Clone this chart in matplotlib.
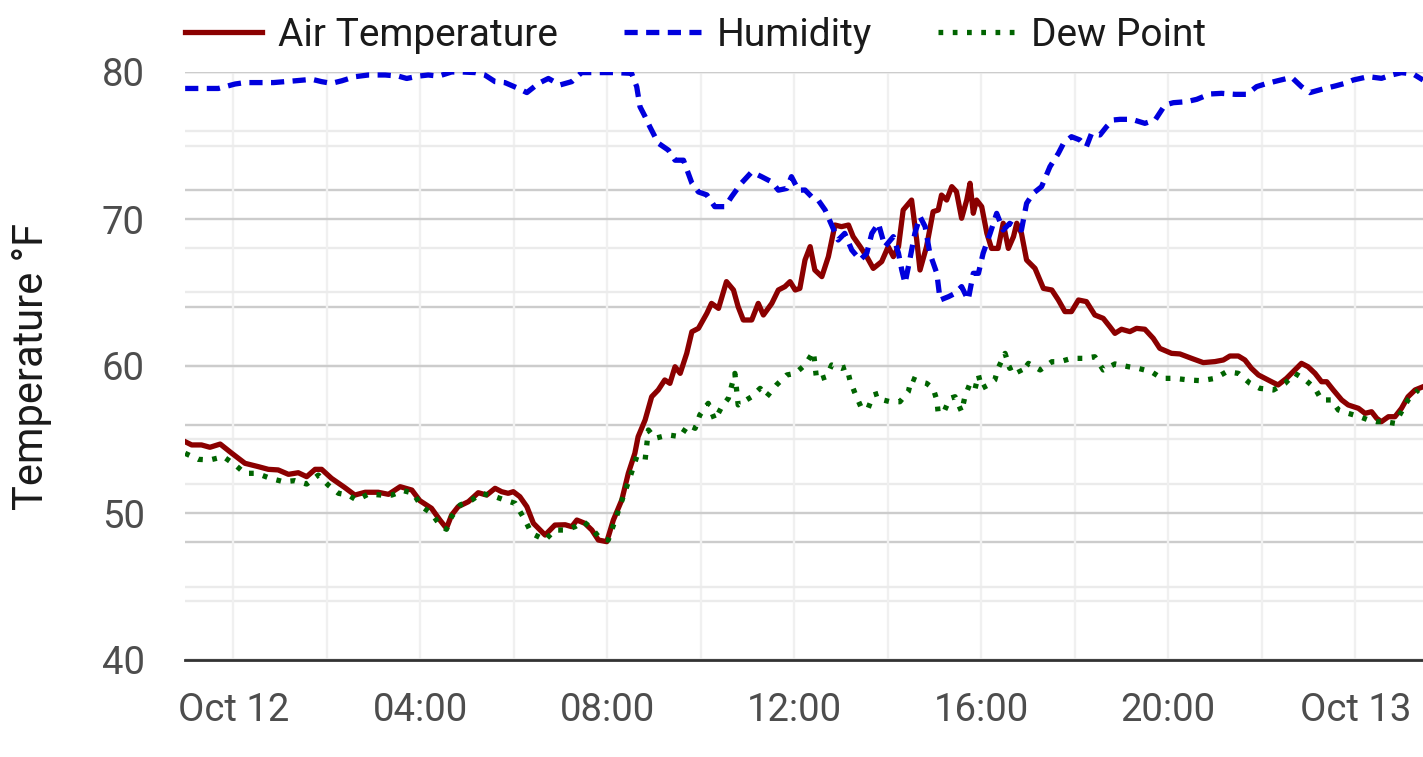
#%%
# temperatura, umidade e ponto de orvalho - Oct 12
import numpy as np
import pandas as pd
import matplotlib
matplotlib.use("Agg")
import matplotlib.pyplot as plt
import matplotlib.dates as mdates
from matplotlib.ticker import FixedLocator

plt.rcParams['font.family'] = ['Roboto', 'DejaVu Sans']

#%%
# dados (horas a partir de Oct 12 00:00)
temp_horas = [-1.03, -0.89, -0.68, -0.50, -0.28, -0.03, 0.25, 0.54, 0.75, 0.96, 1.18, 1.39,
              1.57, 1.75, 1.89, 2.10, 2.39, 2.60, 2.82, 3.10, 3.32, 3.57, 3.82, 3.99, 4.24,
              4.42, 4.56, 4.67, 4.81, 5.03, 5.24, 5.42, 5.60, 5.74, 5.88, 5.99, 6.13, 6.28,
              6.42, 6.67, 6.88, 7.10, 7.24, 7.35, 7.52, 7.67, 7.81, 7.99, 8.13, 8.31, 8.45,
              8.59, 8.66, 8.81, 8.95, 9.09, 9.23, 9.34, 9.45, 9.56, 9.70, 9.81, 9.95, 10.13,
              10.23, 10.38, 10.55, 10.70, 10.80, 10.91, 11.09, 11.23, 11.34, 11.52, 11.66,
              11.80, 11.91, 12.02, 12.12, 12.23, 12.34, 12.44, 12.59, 12.73, 12.87, 13.01,
              13.16, 13.26, 13.41, 13.55, 13.69, 13.87, 14.01, 14.12, 14.23, 14.33, 14.51,
              14.62, 14.69, 14.83, 14.97, 15.08, 15.15, 15.26, 15.37, 15.47, 15.58, 15.69,
              15.76, 15.83, 15.90, 16.01, 16.12, 16.22, 16.36, 16.47, 16.58, 16.69, 16.76,
              16.86, 16.97, 17.15, 17.33, 17.51, 17.65, 17.79, 17.93, 18.08, 18.25, 18.43,
              18.61, 18.75, 18.86, 19.00, 19.18, 19.32, 19.50, 19.68, 19.82, 20.07, 20.25,
              20.50, 20.75, 21.00, 21.18, 21.32, 21.50, 21.64, 21.78, 21.93, 22.07, 22.21,
              22.35, 22.53, 22.71, 22.85, 22.99, 23.14, 23.28, 23.39, 23.53, 23.71, 23.85,
              24.07, 24.21, 24.35, 24.46, 24.56, 24.71, 24.85, 24.99, 25.13, 25.28, 25.42]
temp_vals = [54.85, 54.63, 54.63, 54.47, 54.69, 54.06, 53.38, 53.15, 52.97, 52.93, 52.63, 52.74,
             52.47, 52.97, 52.97, 52.36, 51.72, 51.22, 51.41, 51.41, 51.27, 51.79, 51.56, 50.84,
             50.32, 49.52, 48.96, 49.86, 50.43, 50.77, 51.38, 51.22, 51.68, 51.45, 51.34, 51.45,
             51.11, 50.43, 49.30, 48.50, 49.18, 49.20, 49.07, 49.52, 49.30, 48.84, 48.16, 48.05,
             49.52, 50.88, 52.70, 54.06, 55.19, 56.33, 57.91, 58.37, 59.05, 58.82, 59.95, 59.50,
             60.86, 62.33, 62.56, 63.58, 64.26, 63.92, 65.74, 65.17, 64.03, 63.13, 63.13, 64.26,
             63.47, 64.26, 65.17, 65.40, 65.74, 65.17, 65.28, 67.21, 68.12, 66.53, 66.08, 67.44,
             69.59, 69.48, 69.59, 68.80, 68.12, 67.44, 66.64, 67.10, 68.12, 67.44, 68.12, 70.61,
             71.29, 68.57, 66.53, 68.12, 70.50, 70.61, 71.63, 71.29, 72.20, 71.86, 70.05, 71.29,
             72.43, 70.39, 71.29, 70.84, 69.03, 68.00, 68.00, 69.71, 68.00, 68.80, 69.71, 69.03,
             67.21, 66.64, 65.28, 65.17, 64.49, 63.70, 63.70, 64.49, 64.38, 63.47, 63.24, 62.68,
             62.22, 62.50, 62.34, 62.56, 62.50, 61.88, 61.20, 60.86, 60.82, 60.52, 60.23, 60.30,
             60.41, 60.68, 60.68, 60.41, 59.84, 59.39, 59.16, 58.93, 58.71, 59.16, 59.73, 60.18,
             59.95, 59.50, 58.93, 58.93, 58.37, 57.69, 57.35, 57.12, 56.78, 56.89, 56.44, 56.21,
             56.55, 56.55, 57.12, 57.91, 58.37, 58.55]

umid_horas = [-1.03, -0.61, -0.32, 0.04, 0.25, 0.61, 0.86, 1.11, 1.32, 1.68, 1.89, 2.10, 2.32,
              2.60, 2.89, 3.25, 3.53, 3.71, 3.96, 4.17, 4.39, 4.67, 4.89, 5.17, 5.38, 5.60,
              5.81, 6.10, 6.28, 6.53, 6.74, 6.99, 7.24, 7.45, 7.74, 8.17, 8.52, 8.63, 8.70,
              8.81, 8.91, 9.09, 9.31, 9.45, 9.63, 9.81, 9.95, 10.13, 10.30, 10.52, 10.66,
              10.87, 11.09, 11.30, 11.52, 11.66, 11.84, 11.94, 12.09, 12.23, 12.37, 12.51,
              12.66, 12.80, 12.94, 13.08, 13.23, 13.41, 13.55, 13.66, 13.80, 13.94, 14.12,
              14.23, 14.30, 14.37, 14.47, 14.58, 14.69, 14.80, 14.90, 15.05, 15.12, 15.30,
              15.44, 15.58, 15.72, 15.83, 15.94, 16.04, 16.19, 16.33, 16.47, 16.61, 16.72,
              16.86, 16.97, 17.11, 17.29, 17.47, 17.65, 17.76, 17.93, 18.11, 18.25, 18.36,
              18.54, 18.68, 18.82, 18.97, 19.22, 19.50, 19.72, 19.93, 20.11, 20.39, 20.61,
              20.89, 21.14, 21.43, 21.68, 21.89, 22.07, 22.35, 22.64, 22.85, 23.03, 23.28,
              23.57, 23.78, 23.96, 24.28, 24.56, 24.78, 24.99, 25.24, 25.45]
umid_vals = [97.2, 97.2, 97.2, 97.96, 98.2, 98.2, 98.2, 98.36, 98.5, 98.76, 98.36, 98.07, 98.5,
             99.2, 99.49, 99.49, 99.3, 98.9, 99.3, 99.49, 99.3, 100.0, 100.0, 99.9, 99.49, 98.36,
             98.2, 97.2, 96.5, 98.07, 98.9, 97.8, 98.36, 99.9, 99.9, 99.9, 99.77, 97.5, 94.1,
             92.4, 90.7, 87.9, 86.7, 85.0, 85.0, 81.1, 79.6, 79.1, 77.1, 77.1, 78.8, 81.1,
             83.0, 82.2, 81.3, 79.9, 80.2, 82.2, 79.9, 79.93, 78.8, 78.23, 76.53, 73.98, 71.43,
             72.56, 69.73, 68.03, 69.16, 72.56, 74.26, 70.29, 72.0, 69.16, 66.33, 64.06, 68.03,
             72.56, 75.4, 73.7, 69.16, 65.76, 61.22, 61.79, 62.36, 63.5, 61.22, 65.76, 65.76,
             69.16, 72.56, 75.96, 73.13, 74.26, 73.7, 73.13, 77.66, 79.36, 80.5, 83.9, 86.17,
             87.87, 89.0, 88.44, 87.3, 89.57, 89.29, 90.7, 91.84, 91.95, 91.95, 91.27, 91.84,
             94.39, 94.78, 94.95, 95.35, 96.26, 96.37, 96.2, 96.2, 97.51, 97.96, 98.53, 99.09,
             97.51, 96.49, 97.05, 97.62, 98.07, 98.64, 99.21, 98.92, 99.49, 99.89, 99.66, 98.64]

orvalho_horas = [-1.03, -0.75, -0.50, -0.21, 0.04, 0.25, 0.50, 0.79, 1.07, 1.32, 1.57, 1.82,
                 2.03, 2.25, 2.46, 2.64, 2.89, 3.17, 3.39, 3.64, 3.85, 4.03, 4.24, 4.42, 4.56,
                 4.67, 4.85, 5.10, 5.31, 5.53, 5.60, 5.81, 6.03, 6.24, 6.38, 6.67, 6.88, 7.10,
                 7.31, 7.49, 7.67, 7.84, 8.02, 8.17, 8.34, 8.49, 8.63, 8.81, 8.88, 9.02, 9.31,
                 9.56, 9.73, 9.88, 9.98, 10.16, 10.30, 10.45, 10.59, 10.73, 10.80, 11.09, 11.27,
                 11.41, 11.62, 11.84, 12.02, 12.23, 12.41, 12.48, 12.69, 12.80, 13.01, 13.12,
                 13.19, 13.30, 13.44, 13.58, 13.69, 13.80, 13.90, 14.05, 14.26, 14.44, 14.51,
                 14.69, 14.83, 14.97, 15.05, 15.08, 15.22, 15.33, 15.44, 15.58, 15.65, 15.76,
                 15.87, 15.94, 16.01, 16.15, 16.29, 16.36, 16.51, 16.61, 16.76, 16.85, 17.01,
                 17.26, 17.51, 17.68, 17.93, 18.18, 18.43, 18.61, 18.86, 19.15, 19.36, 19.64,
                 19.86, 20.14, 20.43, 20.71, 21.00, 21.25, 21.50, 21.75, 21.96, 22.25, 22.50,
                 22.71, 22.92, 23.14, 23.28, 23.49, 23.64, 23.85, 24.10, 24.28, 24.46, 24.64,
                 24.85, 24.99, 25.13, 25.35]
orvalho_vals = [54.06, 53.65, 53.61, 53.83, 53.27, 52.70, 52.70, 52.36, 52.13, 52.20, 51.97, 52.58,
                51.90, 51.34, 51.22, 50.88, 51.29, 51.22, 51.22, 51.52, 51.34, 50.43, 49.98, 49.18,
                48.89, 49.75, 50.54, 50.88, 51.34, 51.16, 51.11, 50.88, 50.66, 49.52, 48.62, 48.16,
                48.84, 48.84, 49.07, 49.41, 48.96, 48.28, 48.16, 49.52, 51.11, 52.47, 53.83, 53.61,
                55.65, 55.08, 55.31, 55.19, 55.99, 55.76, 56.67, 57.46, 56.33, 57.23, 57.80, 59.50,
                57.35, 57.91, 58.48, 57.91, 58.71, 59.39, 59.50, 60.07, 60.97, 59.05, 59.27, 60.07,
                59.84, 59.95, 59.05, 58.14, 57.12, 57.12, 58.03, 58.14, 57.69, 57.57, 57.57, 58.25,
                59.16, 58.93, 58.82, 58.48, 57.69, 56.78, 57.01, 57.80, 57.91, 56.89, 57.91, 58.82,
                58.48, 59.39, 58.48, 58.71, 59.05, 59.84, 60.86, 59.84, 60.07, 59.50, 60.18, 59.73,
                60.29, 60.29, 60.52, 60.52, 60.63, 59.73, 60.14, 59.95, 59.84, 59.61, 59.16, 59.16,
                59.05, 59.00, 59.16, 59.61, 59.50, 58.82, 58.48, 58.37, 58.82, 59.50, 59.09, 58.48,
                57.69, 57.69, 57.01, 56.78, 56.55, 56.33, 56.21, 56.21, 56.10, 56.89, 57.69, 58.37]

inicio = pd.Timestamp('2023-10-12')
fim_horas = 25.45

def para_tempo(horas):
    return inicio + pd.to_timedelta(np.array(horas), unit='h')

#%%
fig = plt.figure(figsize=(14.23, 7.57), dpi=100)
ax = fig.add_axes([185/1423, 1 - 660/757, 1 - 185/1423, 588/757])
ax_umid = ax.twinx()  # escala da umidade (0-100), so grade
ax.set_zorder(2)
ax_umid.set_zorder(1)
ax.patch.set_visible(False)

ax.set_ylim(40, 80)
ax_umid.set_ylim(0, 100)
ax.set_xlim(inicio - pd.Timedelta(hours=1.033), inicio + pd.Timedelta(hours=fim_horas))

lw = 3.8
ax.plot(para_tempo(temp_horas), temp_vals, color='#8B0000', lw=lw, solid_joinstyle='round',
        label='Air Temperature')
ax.plot(para_tempo(umid_horas), umid_vals, color='#0000DD', lw=lw, dashes=(2.5, 1.6),
        transform=ax_umid.transData, label='Humidity')
ax.plot(para_tempo(orvalho_horas), orvalho_vals, color='#006400', lw=lw, dashes=(0.9, 1.8),
        label='Dew Point')

# grades
ax.yaxis.set_major_locator(FixedLocator([40, 50, 60, 70, 80]))
ax.yaxis.set_minor_locator(FixedLocator([45, 55, 65, 75]))
ax_umid.yaxis.set_major_locator(FixedLocator([0, 20, 40, 60, 80, 100]))
ax_umid.yaxis.set_minor_locator(FixedLocator([10, 30, 50, 70, 90]))
ax.xaxis.set_major_locator(mdates.HourLocator(byhour=range(0, 24, 4)))
ax.xaxis.set_minor_locator(mdates.HourLocator(byhour=range(0, 24, 2)))

for a in (ax, ax_umid):
    a.grid(True, axis='y', which='major', color='#cccccc', lw=1.7)
    a.grid(True, axis='y', which='minor', color='#ebebeb', lw=1.7)
ax.grid(True, axis='x', which='both', color='#f0f0f0', lw=1.7)

def fmt_data(x, pos=None):
    d = mdates.num2date(x)
    if d.hour == 0:
        return d.strftime('%b %d')
    return d.strftime('%H:%M')

ax.xaxis.set_major_formatter(plt.FuncFormatter(fmt_data))

ax.tick_params(axis='both', which='both', length=0, labelsize=27.5, labelcolor='#4d4d4d')
ax.tick_params(axis='y', pad=29)
ax.tick_params(axis='x', pad=23)
ax_umid.tick_params(axis='y', which='both', length=0, labelright=False)

for a in (ax, ax_umid):
    for s in a.spines.values():
        s.set_visible(False)
ax.spines['bottom'].set_visible(True)
ax.spines['bottom'].set_color('#333333')
ax.spines['bottom'].set_linewidth(2)

ax.set_ylabel('Temperature °F', fontsize=30, color='#1a1a1a', va='center')
ax.yaxis.set_label_coords(-0.1236, 0.5)

handles, labels = ax.get_legend_handles_labels()
leg = fig.legend(handles, labels, loc='center left', bbox_to_anchor=(185/1423, 1 - 35/757),
                 ncol=3, frameon=False, fontsize=28, handlelength=1.98, handletextpad=0.41,
                 columnspacing=1.7, borderaxespad=0, borderpad=0)
for t in leg.get_texts():
    t.set_color('#1a1a1a')

fig.savefig('out.png', dpi=100)
